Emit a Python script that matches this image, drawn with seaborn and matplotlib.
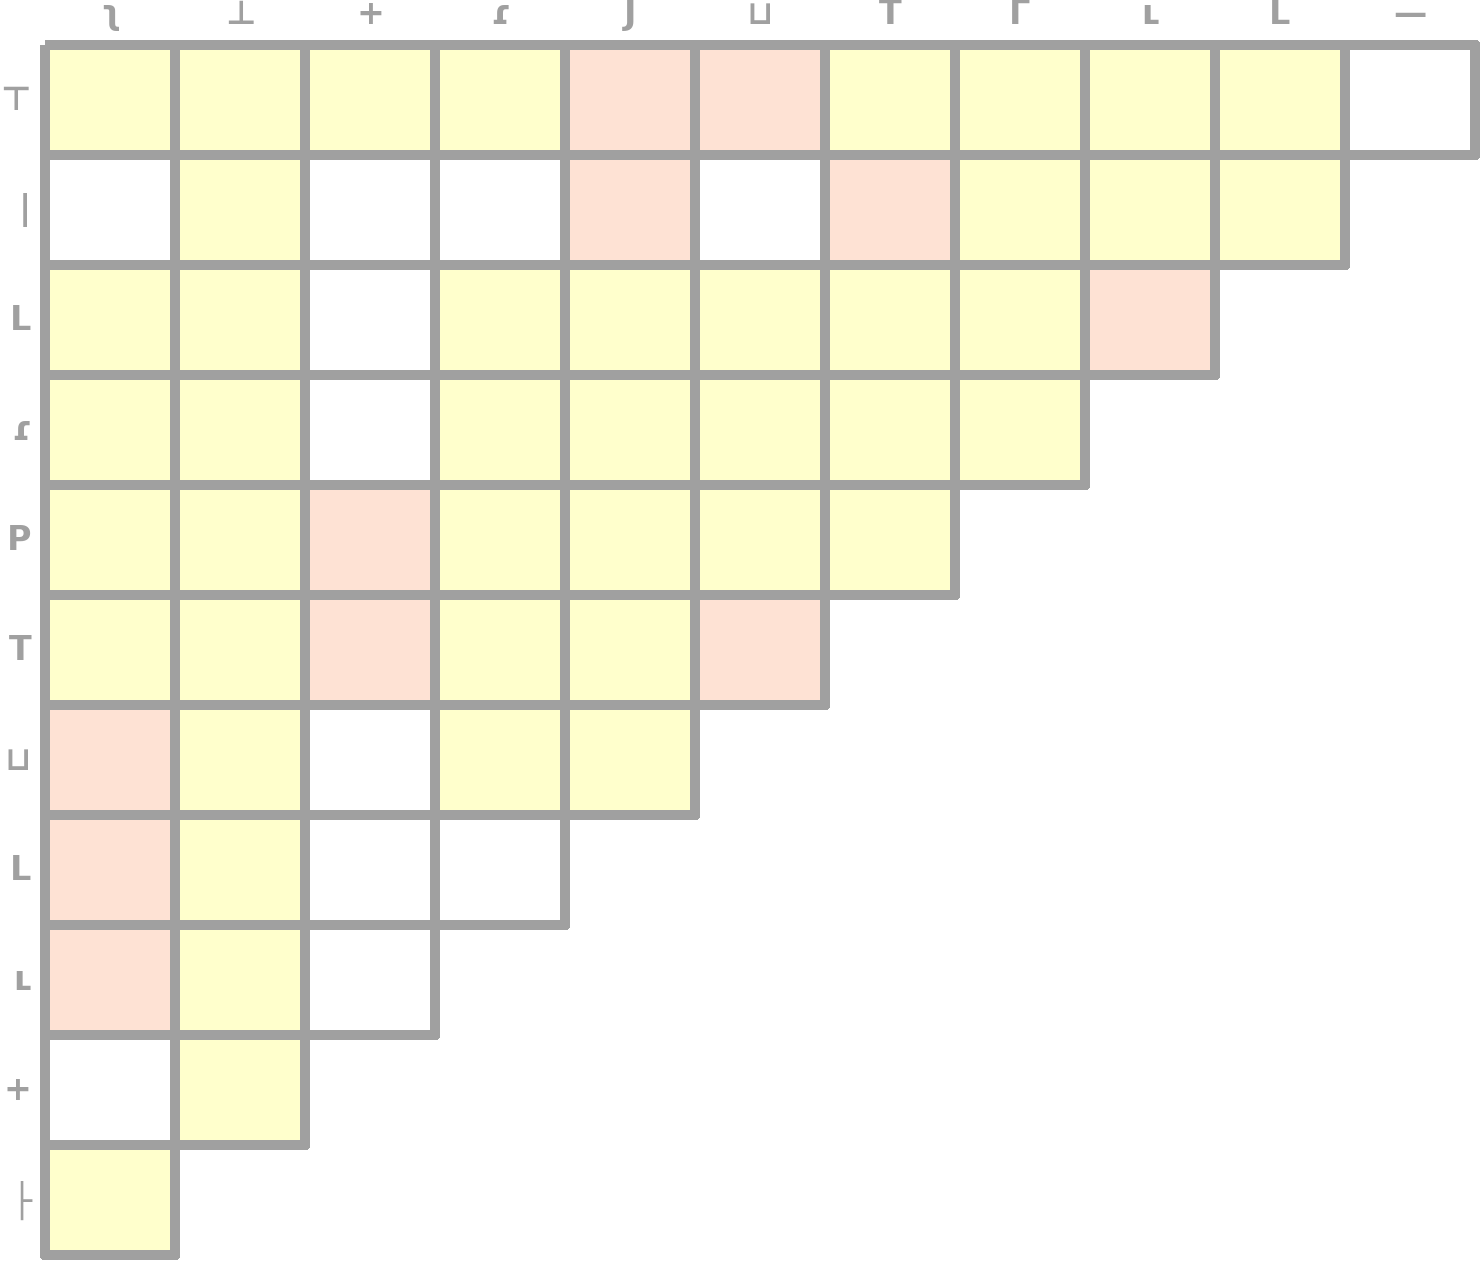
import numpy as np
import matplotlib
matplotlib.use("Agg")
import matplotlib.pyplot as plt
from matplotlib.colors import ListedColormap
import seaborn as sns

# Column / row labels (the reference shows tiny blocky glyphs)
col_labels = ["ʅ", "⊥", "+", "ɾ", "J", "⊔", "T", "Γ", "ʟ", "L", "—"]
row_labels = ["⊤", "|", "L", "ɾ", "P", "T", "⊔", "L", "ʟ", "+", "├"]

# 0 = white, 1 = yellow, 2 = salmon ; rows are upper-left triangular
row1 = [1, 1, 1, 1, 2, 2, 1, 1, 1, 1, 0]
row2 = [0, 1, 0, 0, 2, 0, 2, 1, 1, 1]
row3 = [1, 1, 0, 1, 1, 1, 1, 1, 2]
row4 = [1, 1, 0, 1, 1, 1, 1, 1]
row5 = [1, 1, 2, 1, 1, 1, 1]
row6 = [1, 1, 2, 1, 1, 2]
row7 = [2, 1, 0, 1, 1]
row8 = [2, 1, 0, 0]
row9 = [2, 1, 0]
row10 = [0, 1]
row11 = [1]
rows = [row1, row2, row3, row4, row5, row6, row7, row8, row9, row10, row11]

n = len(col_labels)
mat = np.full((len(rows), n), np.nan)
for i, r in enumerate(rows):
    mat[i, :len(r)] = r
mask = np.isnan(mat)

W, H = 1481, 1261
fig = plt.figure(figsize=(W / 100, H / 100), dpi=100)
ax = fig.add_axes([45 / W, (H - 1255) / H, (1475 - 45) / W, (1255 - 45) / H])

cmap = ListedColormap(["#ffffff", "#ffffcc", "#fee2d4"])
grey = "#a0a0a0"
sns.heatmap(mat, mask=mask, cmap=cmap, vmin=-0.5, vmax=2.5, cbar=False,
            linewidths=7.2, linecolor=grey, ax=ax,
            xticklabels=col_labels, yticklabels=row_labels)
mesh = ax.collections[0]
mesh.set_clip_on(False)
edge_cols = [(0, 0, 0, 0) if m else matplotlib.colors.to_rgba(grey)
             for m in mask.ravel()]
mesh.set_edgecolor(edge_cols)

ax.xaxis.tick_top()
ax.tick_params(axis="both", length=0, pad=10, colors=grey)
for lab in ax.get_xticklabels() + ax.get_yticklabels():
    lab.set_color(grey)
    lab.set_fontsize(24)
    lab.set_fontweight("bold")
    lab.set_rotation(0)
for s in ax.spines.values():
    s.set_visible(False)

fig.savefig("out.png", dpi=100, facecolor="white")
